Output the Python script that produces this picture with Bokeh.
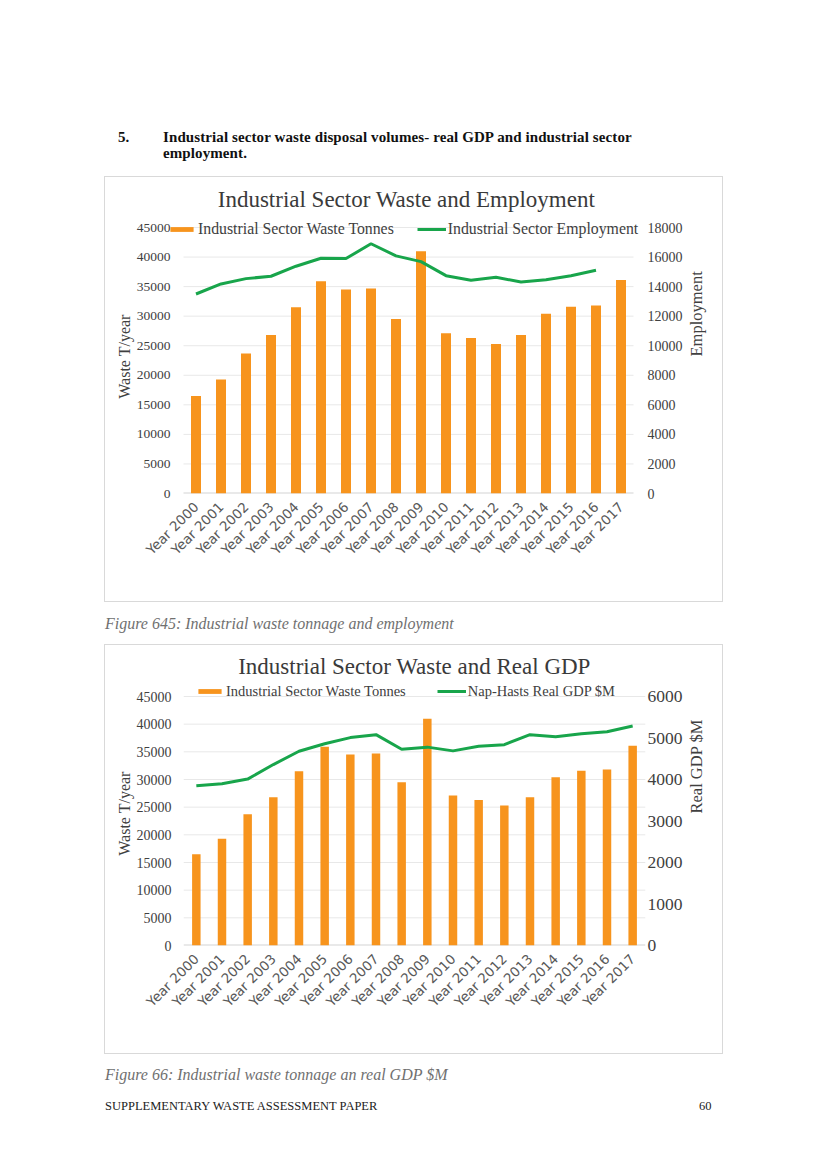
import math
from bokeh.plotting import figure
from bokeh.models import (Range1d, LinearAxis, FixedTicker, Legend, LegendItem, Div, Spacer)
from bokeh.layouts import column, row
from bokeh.embed import file_html
from bokeh.resources import INLINE

# ---------------- data ----------------
years = ["Year 2000", "Year 2001", "Year 2002", "Year 2003", "Year 2004", "Year 2005",
         "Year 2006", "Year 2007", "Year 2008", "Year 2009", "Year 2010", "Year 2011",
         "Year 2012", "Year 2013", "Year 2014", "Year 2015", "Year 2016", "Year 2017"]
waste_tonnes = [16500, 19300, 23700, 26800, 31500, 35900, 34500, 34700, 29500, 41000,
                27100, 26300, 25300, 26800, 30400, 31600, 31800, 36100]
employment = [13500, 14180, 14540, 14700, 15380, 15920, 15900, 16900, 16080, 15690,
              14740, 14430, 14630, 14310, 14470, 14740, 15110]
real_gdp = [3850, 3900, 4010, 4360, 4680, 4860, 5010, 5080, 4730, 4780,
            4690, 4800, 4840, 5080, 5030, 5100, 5150, 5290]
waste_ticks = [0, 5000, 10000, 15000, 20000, 25000, 30000, 35000, 40000, 45000]
employment_ticks = [0, 2000, 4000, 6000, 8000, 10000, 12000, 14000, 16000, 18000]
gdp_ticks = [0, 1000, 2000, 3000, 4000, 5000, 6000]

ORANGE = "#F7941D"
GREEN = "#18A54B"
TXT = "#404040"
SERIF = "Liberation Serif"

# category centres on a numeric axis (one unit per category)
x_centres = [i + 0.5 for i in range(len(years))]
n_cat = len(years)


def style_axis(ax, standoff, size, label_size, label_standoff):
    ax.axis_line_color = None
    ax.major_tick_line_color = None
    ax.minor_tick_line_color = None
    ax.major_tick_out = 0
    ax.major_tick_in = 0
    ax.minor_tick_out = 0
    ax.minor_tick_in = 0
    ax.major_label_standoff = standoff
    ax.major_label_text_font = SERIF
    ax.major_label_text_font_size = size
    ax.major_label_text_color = TXT
    ax.axis_label_text_font = SERIF
    ax.axis_label_text_font_size = label_size
    ax.axis_label_text_font_style = "normal"
    ax.axis_label_text_color = TXT
    ax.axis_label_standoff = label_standoff


def make_chart(title, line_y, line_label, right_max, right_ticks, right_label,
               plot_w, plot_h, extra_left, extra_right, extra_top, borders,
               left_size, right_size, left_standoff, right_standoff,
               bar_width, legend_loc, legend_spacing, legend_size, title_standoff):
    bl, br, bt, bb = borders
    cw = plot_w / n_cat
    frame_w = plot_w + extra_left + extra_right
    frame_h = plot_h + extra_top
    left_max = waste_ticks[-1]
    p = figure(x_range=Range1d(-extra_left / cw, n_cat + extra_right / cw),
               y_range=Range1d(0, left_max * frame_h / plot_h),
               frame_width=frame_w, frame_height=frame_h,
               min_border_left=bl, min_border_right=br, min_border_top=bt,
               min_border_bottom=bb, output_backend="svg", toolbar_location=None,
               background_fill_color="white", border_fill_color="white")
    p.outline_line_color = None
    p.styles = {"outline": "1px solid #d9d9d9"}
    p.xgrid.visible = False
    p.ygrid.visible = False

    p.title.text = title
    p.title.align = "center"
    p.title.text_font = SERIF
    p.title.text_font_size = "23px"
    p.title.text_font_style = "normal"
    p.title.text_color = "#3a3a3a"
    p.title.standoff = title_standoff

    p.extra_y_ranges = {"right": Range1d(0, right_max * frame_h / plot_h)}

    # horizontal gridlines across the category area only
    grid_ticks = waste_ticks[1:]
    p.segment(x0=[0] * len(grid_ticks), x1=[n_cat] * len(grid_ticks),
              y0=grid_ticks, y1=grid_ticks, line_color="#e8e8e8", line_width=1)
    p.segment(x0=[0], x1=[n_cat], y0=[0], y1=[0], line_color="#d4d4d4", line_width=2)

    bars = p.vbar(x=x_centres, top=waste_tonnes, width=bar_width, fill_color=ORANGE,
                  line_color=None)
    line = p.line(x=x_centres[:len(line_y)], y=line_y, y_range_name="right",
                  line_color=GREEN, line_width=3)

    # left axis
    yax = p.yaxis[0]
    yax.ticker = FixedTicker(ticks=waste_ticks)
    yax.axis_label = "Waste T/year"
    style_axis(yax, left_standoff, left_size, "16px", 1)

    # right axis
    rax = LinearAxis(y_range_name="right", ticker=FixedTicker(ticks=right_ticks),
                     axis_label=right_label)
    style_axis(rax, right_standoff, right_size, "16.5px", 11)
    try:
        rax.axis_label_orientation = math.pi / 2
    except Exception:
        pass
    p.add_layout(rax, "right")

    # x axis with category labels
    xax = p.xaxis[0]
    xax.ticker = FixedTicker(ticks=x_centres)
    xax.major_label_overrides = {x: lab for x, lab in zip(x_centres, years)}
    xax.major_label_orientation = math.pi / 4
    xax.major_label_text_font = "DejaVu Sans"
    xax.major_label_text_font_size = "13.5px"
    xax.major_label_text_color = "#595959"
    xax.axis_line_color = None
    xax.major_tick_line_color = None
    xax.minor_tick_line_color = None
    xax.major_tick_out = 0
    xax.major_tick_in = 0
    xax.minor_tick_out = 0
    xax.minor_tick_in = 0
    xax.major_label_standoff = 11

    legend = Legend(items=[LegendItem(label="Industrial Sector Waste Tonnes", renderers=[bars]),
                           LegendItem(label=line_label, renderers=[line])],
                    orientation="horizontal", location=legend_loc,
                    border_line_color=None, background_fill_alpha=0,
                    padding=0, margin=0, spacing=legend_spacing,
                    glyph_width=29, glyph_height=6, label_standoff=2,
                    label_height=18,
                    label_text_font=SERIF, label_text_font_size=legend_size,
                    label_text_color=TXT)
    p.add_layout(legend)
    return p


p1 = make_chart("Industrial Sector Waste and Employment", employment,
                "Industrial Sector Employment", employment_ticks[-1], employment_ticks,
                "Employment",
                450, 266, 16, 12, 8, (62, 77, 42, 108),
                "13.5px", "14px", -3, 2, 0.4,
                (0, 255), 23, "15.8px", 15)
p2 = make_chart("Industrial Sector Waste and Real GDP", real_gdp,
                "Nap-Hasts Real GDP $M", gdp_ticks[-1], gdp_ticks, "Real GDP $M",
                462, 249, 0, 0, 15, (78, 77, 36, 108),
                "14px", "17.5px", 12, 2, 0.33,
                (12, 245), 31, "14.5px", 5)

header_html = """
<div style="position:relative;width:813px;height:177px;font-family:'Liberation Serif';">
  <div style="position:absolute;left:118px;top:129px;font-size:15px;line-height:16px;font-weight:bold;color:#111;">5.</div>
  <div style="position:absolute;left:163px;top:129px;font-size:15px;line-height:16px;font-weight:bold;color:#111;white-space:nowrap;letter-spacing:0.1px;">Industrial sector waste disposal volumes- real GDP and industrial sector<br>employment.</div>
</div>
"""
cap1_html = """
<div style="position:relative;width:813px;height:44px;font-family:'Liberation Serif';">
  <div style="position:absolute;left:105px;top:14px;font-size:16px;line-height:18px;font-style:italic;color:#707070;white-space:nowrap;">Figure 645: Industrial waste tonnage and employment</div>
</div>
"""
cap2_html = """
<div style="position:relative;width:813px;height:91px;font-family:'Liberation Serif';">
  <div style="position:absolute;left:105px;top:13px;font-size:16px;line-height:18px;font-style:italic;color:#707070;white-space:nowrap;">Figure 66: Industrial waste tonnage an real GDP $M</div>
  <div style="position:absolute;left:105px;top:46px;font-size:12.5px;line-height:14px;color:#222;white-space:nowrap;">SUPPLEMENTARY WASTE ASSESSMENT PAPER</div>
  <div style="position:absolute;left:699px;top:46px;font-size:12.5px;line-height:14px;color:#222;">60</div>
</div>
"""

header = Div(text=header_html, width=813, height=177, margin=0)
cap1 = Div(text=cap1_html, width=813, height=44, margin=0)
cap2 = Div(text=cap2_html, width=813, height=91, margin=0)

layout = column(
    header,
    row(Spacer(width=105, height=424, margin=0), p1, margin=0),
    cap1,
    row(Spacer(width=105, height=408, margin=0), p2, margin=0),
    cap2,
    margin=0,
)

open("out.html", "w").write(file_html(layout, INLINE))
